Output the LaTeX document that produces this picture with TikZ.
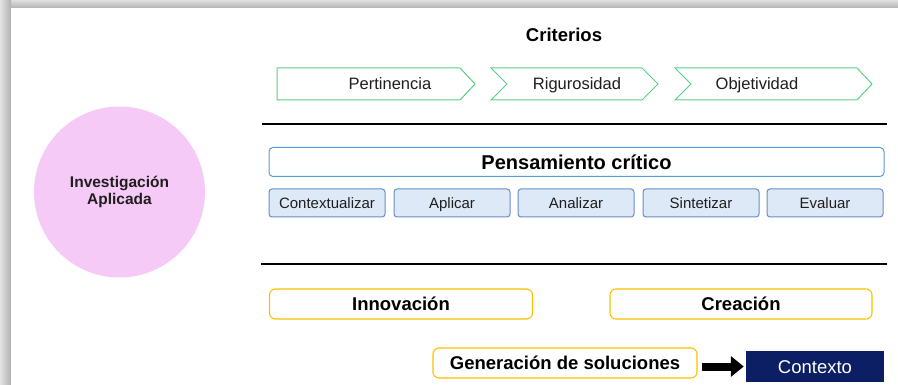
\documentclass[tikz,border=0pt]{standalone}
\usepackage{fontspec}
\setmainfont{Liberation Sans}
\usetikzlibrary{arrows.meta}
\definecolor{grn}{RGB}{92,206,134}
\definecolor{pcb}{RGB}{91,155,213}
\definecolor{skb}{RGB}{106,140,200}
\definecolor{skf}{RGB}{221,233,246}
\definecolor{gold}{RGB}{255,192,0}
\definecolor{navy}{RGB}{12,30,100}
\definecolor{pink}{RGB}{246,202,246}
\definecolor{txt}{RGB}{30,30,30}
\begin{document}
\begin{tikzpicture}[x=1pt,y=-1pt,
  chev/.style={draw=grn, line width=1pt, fill=white},
  crit/.style={font=\fontsize{16.5}{18}\selectfont, text=txt, inner sep=0,
     text height=11.9pt, text depth=0pt},
  skill/.style={draw=skb, fill=skf, rounded corners=3pt, line width=1pt,
     minimum width=116pt, minimum height=28pt, inner sep=0,
     font=\fontsize{15}{16}\selectfont, text=txt, text height=10.8pt, text depth=0pt},
  goldbox/.style={draw=gold, fill=white, rounded corners=6pt, line width=1.1pt,
     minimum height=30pt, inner sep=0, font=\bfseries\fontsize{18.5}{20}\selectfont,
     text height=13.3pt, text depth=0pt},
  sepline/.style={line width=2pt, black}
]
\useasboundingbox (0,0) rectangle (898,385);
% background and shadow
\fill[white] (0,0) rectangle (898,385);
\shade[top color=gray!25, bottom color=gray!60] (0,0) rectangle (898,8);
\shade[left color=gray!22, right color=gray!62] (0,0) rectangle (11,385);
\fill[white] (11,8) rectangle (898,385);

% title
\node[font=\bfseries\fontsize{18.5}{20}\selectfont, inner sep=0,
  text height=13.3pt, text depth=0pt] (crit) at (564,35) {Criterios};

% chevrons
\draw[chev] (277,68) -- (460,68) -- (475,84) -- (460,100) -- (277,100) -- cycle;
\draw[chev] (491,68) -- (642,68) -- (658,84) -- (642,100) -- (491,100) -- (507,84) -- cycle;
\draw[chev] (675,68) -- (857,68) -- (872,84) -- (857,100) -- (675,100) -- (691,84) -- cycle;
\node[crit] (pert) at (390,84) {Pertinencia};
\node[crit] (rig) at (577,84) {Rigurosidad};
\node[crit] (obj) at (757,84) {Objetividad};

% separators
\draw[sepline] (262,124) -- (887,124);
\draw[sepline] (261,264) -- (887,264);

% circle
\node[circle, fill=pink, minimum size=171pt, inner sep=0, align=center,
  font=\bfseries\fontsize{15.5}{17.5}\selectfont, text=txt] (inv) at (119.5,192)
  {Investigación\\Aplicada};

% pensamiento critico
\node[draw=pcb, fill=white, rounded corners=4pt, line width=1pt,
  minimum width=615pt, minimum height=29pt, inner sep=0,
  text height=14.4pt, text depth=0pt,
  font=\bfseries\fontsize{20}{22}\selectfont] (pc) at (576.5,162) {Pensamiento crítico};

\node[skill] (s1) at (327,203) {Contextualizar};
\node[skill] (s2) at (452,203) {Aplicar};
\node[skill] (s3) at (576,203) {Analizar};
\node[skill] (s4) at (701,203) {Sintetizar};
\node[skill] (s5) at (825,203) {Evaluar};

% bottom
\node[goldbox, minimum width=263pt] (inn) at (401,304) {Innovación};
\node[goldbox, minimum width=262pt] (cre) at (741,304) {Creación};
\node[goldbox, minimum width=264pt] (gen) at (565,363) {Generación de soluciones};
\node[fill=navy, text=white, minimum width=138pt, minimum height=31pt, inner sep=0,
  text height=13.3pt, text depth=0pt,
  font=\fontsize{18.5}{20}\selectfont] (ctx) at (815,366.5) {Contexto};

\draw[line width=8pt, -{Triangle[length=13pt,width=20pt]}, shorten <=4pt, shorten >=2pt]
  (gen.east |- ctx) -- (ctx.west);
\end{tikzpicture}
\end{document}
